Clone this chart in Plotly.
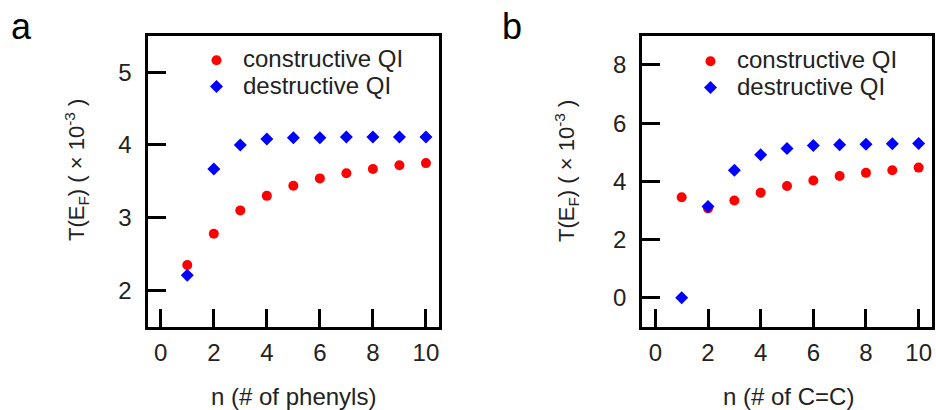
import plotly.graph_objects as go

# ---- data ----
n_vals = [1, 2, 3, 4, 5, 6, 7, 8, 9, 10]
a_constructive = [2.35, 2.78, 3.10, 3.30, 3.44, 3.54, 3.61, 3.67, 3.72, 3.75]
a_destructive = [2.21, 3.67, 4.00, 4.08, 4.10, 4.10, 4.11, 4.11, 4.11, 4.11]
b_constructive = [3.45, 3.07, 3.34, 3.61, 3.84, 4.03, 4.18, 4.29, 4.38, 4.47]
b_destructive = [0.00, 3.13, 4.38, 4.91, 5.13, 5.23, 5.26, 5.27, 5.29, 5.30]

x_ticks = [0, 2, 4, 6, 8, 10]
a_y_ticks = [2, 3, 4, 5]
b_y_ticks = [0, 2, 4, 6, 8]
series_names = ["constructive QI", "destructive QI"]
panel_labels = ["a", "b"]
x_titles = ["n (# of phenyls)", "n (# of C=C)"]
y_title = "T(E<sub>F</sub>) ( × 10<sup>-3</sup> )"

W, H = 936, 410
FONT = "Arial, Liberation Sans, sans-serif"
RED = "#ff0000"
BLUE = "#0000ff"


def px_x(p):
    return p / W


def px_y(p):
    return 1 - p / H


def legend_name(s):
    return '<span style="font-size:24px">' + s + '</span>'


fig = go.Figure()

fig.add_trace(go.Scatter(x=n_vals, y=a_constructive, mode="markers", name=legend_name(series_names[0]),
                         marker=dict(symbol="circle", size=10, color=RED),
                         xaxis="x", yaxis="y", legend="legend"))
fig.add_trace(go.Scatter(x=n_vals, y=a_destructive, mode="markers", name=legend_name(series_names[1]),
                         marker=dict(symbol="diamond", size=10, color=BLUE),
                         xaxis="x", yaxis="y", legend="legend"))
fig.add_trace(go.Scatter(x=n_vals, y=b_constructive, mode="markers", name=legend_name(series_names[0]),
                         marker=dict(symbol="circle", size=10, color=RED),
                         xaxis="x2", yaxis="y2", legend="legend2"))
fig.add_trace(go.Scatter(x=n_vals, y=b_destructive, mode="markers", name=legend_name(series_names[1]),
                         marker=dict(symbol="diamond", size=10, color=BLUE),
                         xaxis="x2", yaxis="y2", legend="legend2"))

axis_common = dict(
    showline=True, linewidth=3, linecolor="black", mirror=True,
    ticks="inside", ticklen=18, tickwidth=3, tickcolor="black",
    showgrid=False, zeroline=False,
    tickfont=dict(family=FONT, size=24, color="#222"),
)

ydom = [px_y(326.8), px_y(35.8)]

leg_common = dict(xanchor="left", yanchor="top", bgcolor="rgba(0,0,0,0)",
                  itemwidth=43, font=dict(family=FONT, size=18, color="#222"))

fig.update_layout(
    width=W, height=H,
    margin=dict(l=0, r=0, t=0, b=0),
    paper_bgcolor="white", plot_bgcolor="white",
    font=dict(family=FONT, size=24, color="#222"),
    xaxis=dict(domain=[px_x(147.5), px_x(439.2)], range=[-0.5, 10.5],
               tickvals=x_ticks, anchor="y", ticklabelstandoff=2, **axis_common),
    yaxis=dict(domain=ydom, range=[1.5, 5.5], tickvals=a_y_ticks, anchor="x",
               ticklabelstandoff=8, **axis_common),
    xaxis2=dict(domain=[px_x(642.2), px_x(931.8)], range=[-0.5, 10.5],
                tickvals=x_ticks, anchor="y2", ticklabelstandoff=2, **axis_common),
    yaxis2=dict(domain=ydom, range=[-1, 9], tickvals=b_y_ticks, anchor="x2",
                ticklabelstandoff=8, **axis_common),
    legend=dict(x=px_x(190), y=px_y(42), **leg_common),
    legend2=dict(x=px_x(684), y=px_y(43), **leg_common),
    showlegend=True,
)

annotations = []
# panel labels
annotations.append(dict(text=panel_labels[0], x=px_x(9), y=px_y(4), xref="paper", yref="paper",
                        xanchor="left", yanchor="top", showarrow=False,
                        font=dict(family=FONT, size=36, color="black")))
annotations.append(dict(text=panel_labels[1], x=px_x(500), y=px_y(4), xref="paper", yref="paper",
                        xanchor="left", yanchor="top", showarrow=False,
                        font=dict(family=FONT, size=36, color="black")))
# x titles
annotations.append(dict(text=x_titles[0], x=px_x(293), y=px_y(396), xref="paper", yref="paper",
                        xanchor="center", yanchor="middle", showarrow=False,
                        font=dict(family=FONT, size=24, color="#222")))
annotations.append(dict(text=x_titles[1], x=px_x(788), y=px_y(396), xref="paper", yref="paper",
                        xanchor="center", yanchor="middle", showarrow=False,
                        font=dict(family=FONT, size=24, color="#222")))
# y titles
annotations.append(dict(text=y_title, x=px_x(77), y=px_y(170), xref="paper", yref="paper",
                        xanchor="center", yanchor="middle", textangle=-90, showarrow=False,
                        font=dict(family=FONT, size=22, color="#222")))
annotations.append(dict(text=y_title, x=px_x(567), y=px_y(171), xref="paper", yref="paper",
                        xanchor="center", yanchor="middle", textangle=-90, showarrow=False,
                        font=dict(family=FONT, size=22, color="#222")))
fig.update_layout(annotations=annotations)

fig.write_html("out.html")
